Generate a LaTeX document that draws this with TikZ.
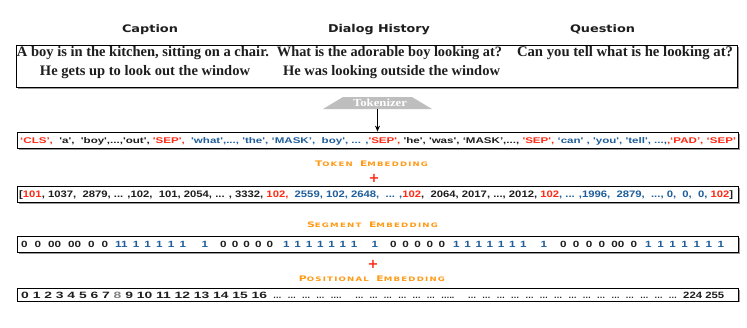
\documentclass[tikz,border=0pt]{standalone}
\usepackage{fontspec}
\usepackage{graphicx}
\usetikzlibrary{shadows,arrows.meta}
\setmainfont{Liberation Serif}
\newfontfamily\rowfont{Liberation Sans}
\newfontfamily\hdfont{DejaVu Sans}
\newfontfamily\embfont{DejaVu Sans}[LetterSpace=14]
\definecolor{cred}{HTML}{FF2A14}
\definecolor{cblue}{HTML}{1F5E9A}
\definecolor{corange}{HTML}{FF9A14}
\definecolor{cgrey}{HTML}{BEBEBE}
\definecolor{ctxt}{HTML}{1E1E1E}
\newcommand\q{\textquotesingle}
\newcommand\fsc[2]{{\fontsize{7}{7}\selectfont #1}{\fontsize{5.6}{5.6}\selectfont #2}}
\newcommand\R[1]{\textcolor{cred}{#1}}
\newcommand\B[1]{\textcolor{cblue}{#1}}
\newcommand\segg[2]{\scalebox{1.3}[1]{\makebox[#1pt][s]{#2}}}
\begin{document}
\begin{tikzpicture}[x=1pt,y=-1pt,
  box/.style={draw=black, line width=0.8pt, fill=white, inner sep=0pt,
    drop shadow={shadow xshift=1.5pt, shadow yshift=-1.5pt, fill=black!40, opacity=1}},
  hd/.style={inner sep=0pt, anchor=base, font=\hdfont\bfseries, text=ctxt},
  ser/.style={inner sep=0pt, anchor=base, font=\fontsize{11.5}{12}\selectfont\bfseries, text=ctxt},
  row/.style={inner sep=0pt, anchor=base west, font=\rowfont\bfseries\fontsize{8.5}{9}\selectfont, text=ctxt},
  seg/.style={inner sep=0pt, anchor=base west, font=\rowfont\bfseries\fontsize{9}{9}\selectfont, text=ctxt},
  emb/.style={inner sep=0pt, anchor=base, font=\embfont\bfseries, text=corange},
  plus/.style={inner sep=0pt, font=\hdfont\bfseries\fontsize{13}{13}\selectfont, text=cred},
  arr/.style={line width=1.3pt, -{Stealth[length=6pt,width=5pt]}}]
\useasboundingbox (0,0) rectangle (747,327);
\fill[white] (0,0) rectangle (747,327);

% headers
\node[hd] (hcap) at (150,32) {\resizebox{56pt}{7.9pt}{Caption}};
\node[hd] (hdia) at (379,32) {\resizebox{102pt}{8.2pt}{Dialog History}};
\node[hd] (hque) at (602.5,32) {\resizebox{65pt}{7.9pt}{Question}};

% top box
\node[box, minimum width=721pt, minimum height=42pt] (top) at (376.5,66) {};
\node[ser] (c1) at (143,56) {\resizebox{252pt}{!}{A boy is in the kitchen, sitting on a chair.}};
\node[ser] (c2) at (145,75) {\resizebox{210pt}{!}{He gets up to look out the window}};
\node[ser] (d1) at (389.5,56) {\resizebox{225pt}{!}{What is the adorable boy looking at?}};
\node[ser] (d2) at (391.5,75) {\resizebox{217pt}{!}{He was looking outside the window}};
\node[ser] (q1) at (625,56) {\resizebox{216pt}{!}{Can you tell what is he looking at?}};

% tokenizer
\fill[cgrey] (343,97) -- (412,97) -- (432,109) -- (323,109) -- cycle;
\node[inner sep=0pt, anchor=base, text=white, font=\bfseries] (tok) at (380,106.5) {\resizebox{54pt}{7.5pt}{Tokenizer}};
\coordinate (tokb) at (377.5,109);

% token box
\node[box, minimum width=721pt, minimum height=16pt] (tokbox) at (377.5,140) {};
\draw[arr] (tokb) -- (tokb |- tokbox.north);
\node[row] (tokrow) at (20,143.5) {\resizebox{716pt}{6pt}{\R{‘CLS’,}\ \ \q a\q,\ \ \q boy\q,...,\q out\q,\ \R{\q SEP\q,}\ \ \B{\q what\q,..., \q the\q, ‘MASK’,\ \ boy\q, ... ,}\R{\q SEP\q,} \q he\q, \q was\q, ‘MASK’,..., \R{\q SEP\q,} \B{‘can\q\ , \q you\q, \q tell\q, ...,}\R{,‘PAD’, ‘SEP’}}};

\node[emb] (lt) at (371.5,166) {\resizebox{113pt}{5.6pt}{\fsc{T}{OKEN}\ \fsc{E}{MBEDDING}}};
\node[plus] (p1) at (374,178) {+};

% embedding box
\node[box, minimum width=721pt, minimum height=16pt] (embbox) at (377.5,194) {};
\node[row] (embrow) at (19,197.7) {\resizebox{714pt}{6.8pt}{[\R{101}, 1037,\ \ 2879, ... ,102,\ \ 101, 2054, ... , 3332, \R{102,}\ \ \B{2559, 102, 2648,\ \ ... ,}\R{102},\ \ 2064, 2017, ..., 2012, \R{102}\B{, ... ,1996,\ \ 2879,\ \ ..., 0,\ \ 0,\ \ 0,} \R{102}]}};

\node[emb] (ls) at (372.5,227) {\resizebox{131pt}{5.6pt}{\fsc{S}{EGMENT}\ \fsc{E}{MBEDDING}}};

% segment box
\node[box, minimum width=721pt, minimum height=16pt] (segbox) at (377.5,244) {};
\node[seg] (s1) at (21,247.5) {\segg{66.9}{0 0 00 00 0 0}};
\node[seg] (s2) at (115,247.5) {\segg{71.5}{\B{11 1 1 1 1 1\ \ \ 1}}};
\node[seg] (s3) at (220,247.5) {\segg{40.8}{0 0 0 0 0}};
\node[seg] (s4) at (283,247.5) {\segg{73.1}{\B{1 1 1 1 1 1 1\ \ \ 1}}};
\node[seg] (s5) at (390,247.5) {\segg{42.3}{0 0 0 0 0}};
\node[seg] (s6) at (453,247.5) {\segg{72.3}{\B{1 1 1 1 1 1 1\ \ \ 1}}};
\node[seg] (s7) at (560,247.5) {\segg{59.2}{0 0 0 0 00 0}};
\node[seg] (s8) at (645,247.5) {\segg{60.8}{\B{1 1 1 1 1 1 1}}};

\node[plus] (p2) at (373,264) {+};
\node[emb] (lp) at (372,281.5) {\resizebox{146pt}{5.6pt}{\fsc{P}{OSITIONAL}\ \fsc{E}{MBEDDING}}};

% positional box
\node[box, minimum width=721pt, minimum height=12.5pt] (posbox) at (377.5,294.7) {};
\node[row] (pr1) at (21,298.7) {\resizebox{246pt}{6.4pt}{0 1 2 3 4 5 6 7 \textcolor{gray}{8} 9 10 11 12 13 14 15 16}};
\node[row] (pr2) at (273,298.7) {\makebox[404pt][s]{… … … … …. … … … … … … ….. … … … … … … … … … … … … … … …}};
\node[row] (pr3) at (683,298.7) {\resizebox{41pt}{6.4pt}{224 255}};
\end{tikzpicture}
\end{document}
